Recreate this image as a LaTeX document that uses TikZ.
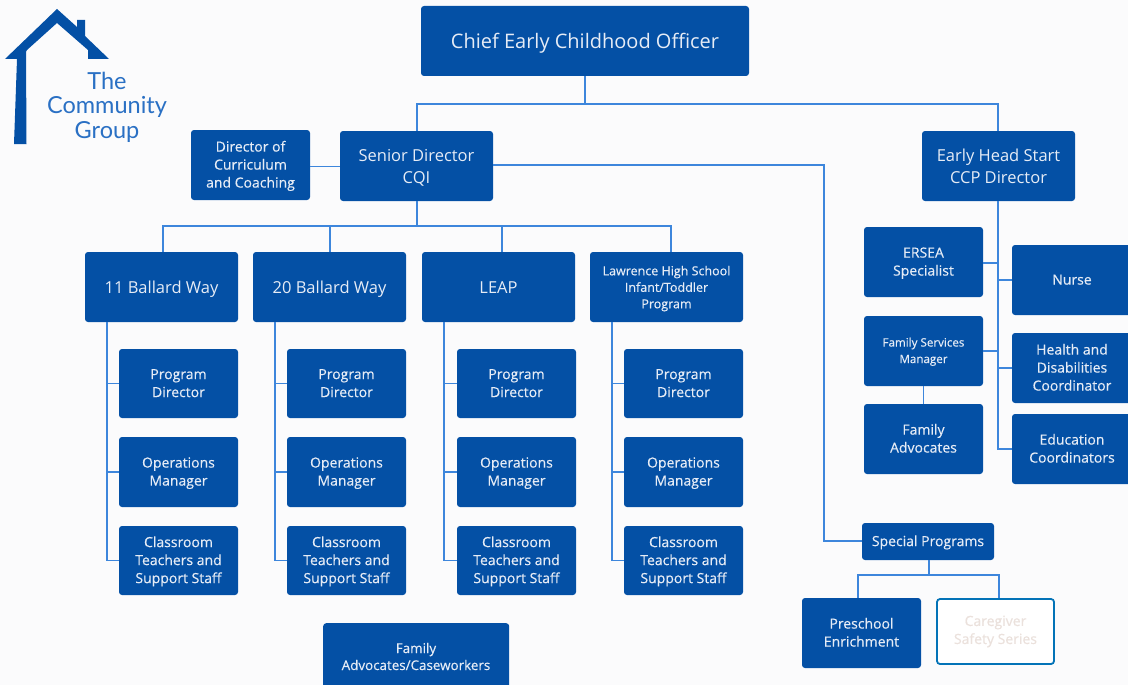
\documentclass[tikz,border=0pt]{standalone}
\usepackage{fontspec}
\setmainfont{Open Sans}
\newfontfamily\medfont[FakeBold=0.35]{Open Sans}
\newfontfamily\logofont{Lato}
\definecolor{boxblue}{HTML}{0450A5}
\definecolor{linkblue}{HTML}{3D86DC}
\definecolor{paper}{HTML}{FBFBFC}
\definecolor{boxtext}{HTML}{E6ECF6}
\definecolor{ghost}{HTML}{EBE1DC}
\definecolor{logotext}{HTML}{2A70C4}
\def\textdrop{1pt}
\tikzset{
  x=1pt,y=-1pt,
  orgbox/.style={fill=boxblue,rounded corners=3pt,text=boxtext,align=center,inner sep=0pt,font=\medfont\fontsize{14}{18}\selectfont\def\textdrop{1pt}},
  big/.style={font=\fontsize{16.5}{21.8}\selectfont\def\textdrop{2.5pt}},
  huge/.style={font=\fontsize{20}{24}\selectfont\def\textdrop{3pt}},
  small/.style={font=\medfont\fontsize{11.6}{16.5}\selectfont\def\textdrop{0.5pt}},
  smallish/.style={font=\medfont\fontsize{12.5}{16.5}\selectfont\def\textdrop{1.5pt}},
  link/.style={draw=linkblue,line width=1.1pt},
}
\newcommand{\orgnode}[7][]{% style, name, x0,y0,x1,y1,text
  \node[orgbox,#1,minimum width=#5pt-#3pt,minimum height=#6pt-#4pt] (#2) at ({(#3+#5)/2},{(#4+#6)/2}) {\raisebox{-\textdrop}[\height][\depth]{\begin{tabular}{@{}c@{}}#7\end{tabular}}};}
\begin{document}
\begin{tikzpicture}
\useasboundingbox (0,0) rectangle (1128,685);
\fill[paper] (0,0) rectangle (1128,685);
% logo
\fill[boxblue] (5,59) -- (57,9) -- (77,27) -- (77,20) -- (85,20) -- (85,36) -- (109,59) -- (88,59) -- (88,50) -- (57,23) -- (27,50) -- (26,52) -- (26.5,144) -- (14,144) -- (17,59) -- cycle;
\node[text=logotext,align=center,font=\logofont\fontsize{23.5}{24.5}\selectfont,inner sep=0pt] (logo) at (107,107) {The\\Community\\Group};
% boxes
\orgnode[huge]{chief}{421}{6}{749}{76}{Chief Early Childhood Officer}
\orgnode{curr}{191}{130}{310}{200}{Director of\\Curriculum\\and Coaching}
\orgnode[big]{senior}{340}{131}{493}{201}{Senior Director\\CQI}
\orgnode[big]{ehs}{922}{131}{1075}{201}{Early Head Start\\CCP Director}
\orgnode[big]{siteA}{85}{252}{238}{322}{11 Ballard Way}
\orgnode[big]{siteB}{253}{252}{406}{322}{20 Ballard Way}
\orgnode[big]{siteC}{422}{252}{575}{322}{LEAP}
\orgnode[smallish]{siteD}{590}{252}{743}{322}{Lawrence High School\\Infant/Toddler\\Program}
\foreach \n/\l/\r in {A/119/238,B/287/406,C/457/576,D/624/743}{
  \orgnode{pd\n}{\l}{349}{\r}{418}{Program\\Director}
  \orgnode{om\n}{\l}{437}{\r}{507}{Operations\\Manager}
  \orgnode{ct\n}{\l}{526}{\r}{595}{Classroom\\Teachers and\\Support Staff}
}
\orgnode{ersea}{864}{227}{983}{297}{ERSEA\\Specialist}
\orgnode[small]{fsm}{864}{316}{983}{386}{Family Services\\Manager}
\orgnode{fa}{864}{404}{983}{474}{Family\\Advocates}
\orgnode{nurse}{1012}{245}{1132}{315}{Nurse}
\orgnode{health}{1012}{333}{1132}{403}{Health and\\Disabilities\\Coordinator}
\orgnode{edu}{1012}{414}{1132}{484}{Education\\Coordinators}
\orgnode{special}{862}{523}{994}{560}{Special Programs}
\orgnode{pre}{802}{598}{921}{668}{Preschool\\Enrichment}
\node[orgbox,fill=white,draw=boxblue!80!cyan,line width=1.8pt,text=ghost,minimum width=117pt,minimum height=65pt] (care) at (995.5,631.5) {Caregiver\\Safety Series};
\node[orgbox,minimum width=186pt,minimum height=70pt,anchor=north west] (cw) at (323,623) {};
\node[text=boxtext,align=center,inner sep=0pt,font=\medfont\fontsize{13.4}{17}\selectfont] (cwt) at (416,656.5) {Family\\Advocates/Caseworkers};
% connectors
\coordinate (busTop) at (585,104);
\draw[link] (chief.south -| busTop) -- (busTop);
\draw[link] (senior.north -| 417,0) |- (busTop) -| (ehs.north -| 998,0);
\coordinate (busSites) at (417,226);
\draw[link] (senior.south -| busSites) -- (busSites);
\draw[link] (siteA.north -| 163,0) |- (busSites);
\draw[link] (siteB.north -| 330,0) |- (busSites);
\draw[link] (siteC.north -| 502,0) |- (busSites);
\draw[link] (siteD.north -| 671,0) |- (busSites);
\foreach \n/\x in {A/107,B/275,C/444,D/612}{
  \draw[link] (site\n.south -| \x,0) |- (ct\n.west);
  \draw[link] (pd\n.west) -- (pd\n.west -| \x,0);
  \draw[link] (om\n.west) -- (om\n.west -| \x,0);
}
\draw[link] (curr.east |- 0,166.5) -- (senior.west |- 0,166.5);
\draw[link] (senior.east |- 0,165) -| (824,541) -- (special.west |- 0,541);
\draw[link] (ehs.south -| 998,0) -- (edu.west -| 998,0) -- (edu.west);
\draw[link] (ersea.east |- 0,263) -- (998,263);
\draw[link] (fsm.east) -- (fsm.east -| 998,0);
\draw[link] (nurse.west) -- (nurse.west -| 998,0);
\draw[link] (health.west) -- (health.west -| 998,0);
\draw[link] (fsm.south) -- (fa.north);
\coordinate (busSpecial) at (929,575);
\draw[link] (special.south -| busSpecial) -- (busSpecial);
\draw[link] (pre.north -| 858,0) |- (busSpecial) -| (care.north -| 999,0);
\end{tikzpicture}
\end{document}
